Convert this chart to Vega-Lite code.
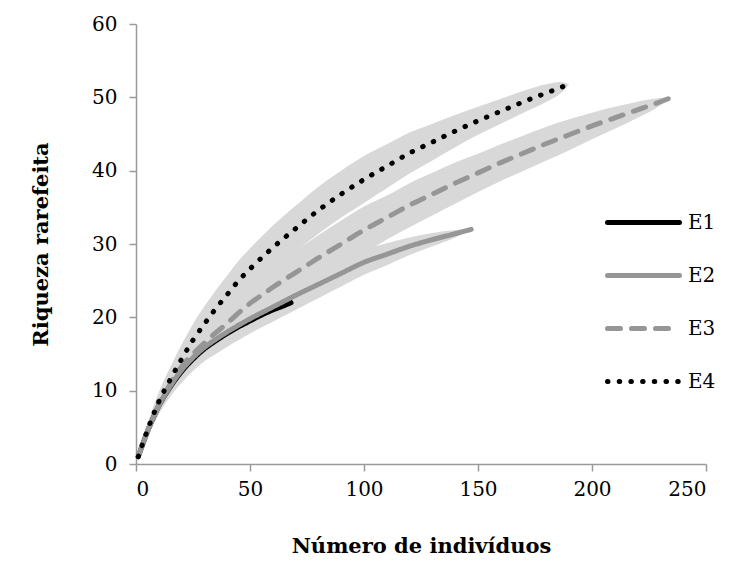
{
  "$schema": "https://vega.github.io/schema/vega-lite/v6.json",
  "width": 570,
  "height": 440,
  "autosize": {"type": "none"},
  "padding": {"left": 136, "top": 24, "right": 25, "bottom": 107},
  "background": "white",
  "config": {
    "view": {"stroke": null},
    "font": "DejaVu Serif",
    "axis": {
      "grid": false,
      "domainColor": "#9a9a9a",
      "domainWidth": 1.5,
      "tickColor": "#9a9a9a",
      "tickWidth": 1.5,
      "tickSize": 7,
      "labelFont": "DejaVu Serif",
      "labelFontSize": 20,
      "labelColor": "black",
      "titleFont": "DejaVu Serif",
      "titleFontSize": 21,
      "titleFontWeight": "bold",
      "titleColor": "black"
    }
  },
  "data": {
    "values": [
      {"s": "E1", "x": 1, "y": 1, "lo": 1, "hi": 1},
      {"s": "E1", "x": 5, "y": 4.4, "lo": 3.8, "hi": 5.0},
      {"s": "E1", "x": 10, "y": 7.9, "lo": 6.9, "hi": 8.9},
      {"s": "E1", "x": 15, "y": 10.5, "lo": 9.2, "hi": 11.8},
      {"s": "E1", "x": 20, "y": 12.6, "lo": 11.1, "hi": 14.1},
      {"s": "E1", "x": 25, "y": 14.3, "lo": 12.7, "hi": 15.9},
      {"s": "E1", "x": 30, "y": 15.7, "lo": 14.1, "hi": 17.3},
      {"s": "E1", "x": 35, "y": 16.8, "lo": 15.2, "hi": 18.4},
      {"s": "E1", "x": 40, "y": 17.8, "lo": 16.3, "hi": 19.3},
      {"s": "E1", "x": 45, "y": 18.7, "lo": 17.3, "hi": 20.1},
      {"s": "E1", "x": 50, "y": 19.5, "lo": 18.2, "hi": 20.8},
      {"s": "E1", "x": 55, "y": 20.3, "lo": 19.2, "hi": 21.4},
      {"s": "E1", "x": 60, "y": 21.0, "lo": 20.2, "hi": 21.8},
      {"s": "E1", "x": 65, "y": 21.6, "lo": 21.2, "hi": 22.0},
      {"s": "E1", "x": 68, "y": 22.0, "lo": 22.0, "hi": 22.0},

      {"s": "E2", "x": 1, "y": 1, "lo": 1, "hi": 1},
      {"s": "E2", "x": 5, "y": 4.4, "lo": 3.7, "hi": 5.1},
      {"s": "E2", "x": 10, "y": 7.9, "lo": 6.8, "hi": 9.0},
      {"s": "E2", "x": 15, "y": 10.6, "lo": 9.2, "hi": 12.0},
      {"s": "E2", "x": 20, "y": 12.8, "lo": 11.1, "hi": 14.5},
      {"s": "E2", "x": 25, "y": 14.5, "lo": 12.7, "hi": 16.3},
      {"s": "E2", "x": 30, "y": 15.9, "lo": 14.0, "hi": 17.8},
      {"s": "E2", "x": 35, "y": 17.0, "lo": 15.0, "hi": 19.0},
      {"s": "E2", "x": 40, "y": 18.0, "lo": 16.0, "hi": 20.0},
      {"s": "E2", "x": 50, "y": 19.8, "lo": 17.8, "hi": 21.8},
      {"s": "E2", "x": 60, "y": 21.4, "lo": 19.4, "hi": 23.4},
      {"s": "E2", "x": 70, "y": 23.0, "lo": 21.0, "hi": 25.0},
      {"s": "E2", "x": 80, "y": 24.5, "lo": 22.6, "hi": 26.4},
      {"s": "E2", "x": 90, "y": 26.0, "lo": 24.2, "hi": 27.8},
      {"s": "E2", "x": 100, "y": 27.5, "lo": 25.8, "hi": 29.2},
      {"s": "E2", "x": 110, "y": 28.6, "lo": 27.1, "hi": 30.1},
      {"s": "E2", "x": 120, "y": 29.7, "lo": 28.5, "hi": 30.9},
      {"s": "E2", "x": 130, "y": 30.6, "lo": 29.7, "hi": 31.5},
      {"s": "E2", "x": 140, "y": 31.4, "lo": 30.9, "hi": 31.9},
      {"s": "E2", "x": 147, "y": 32.0, "lo": 32.0, "hi": 32.0},

      {"s": "E3", "x": 1, "y": 1, "lo": 1, "hi": 1},
      {"s": "E3", "x": 5, "y": 4.5, "lo": 3.8, "hi": 5.2},
      {"s": "E3", "x": 10, "y": 8.1, "lo": 6.9, "hi": 9.3},
      {"s": "E3", "x": 15, "y": 10.9, "lo": 9.3, "hi": 12.5},
      {"s": "E3", "x": 20, "y": 13.3, "lo": 11.3, "hi": 15.3},
      {"s": "E3", "x": 25, "y": 15.0, "lo": 12.8, "hi": 17.2},
      {"s": "E3", "x": 30, "y": 16.5, "lo": 14.1, "hi": 18.9},
      {"s": "E3", "x": 35, "y": 17.9, "lo": 15.3, "hi": 20.5},
      {"s": "E3", "x": 40, "y": 19.2, "lo": 16.5, "hi": 21.9},
      {"s": "E3", "x": 45, "y": 20.6, "lo": 17.8, "hi": 23.4},
      {"s": "E3", "x": 50, "y": 21.9, "lo": 19.0, "hi": 24.8},
      {"s": "E3", "x": 55, "y": 23.0, "lo": 20.0, "hi": 26.0},
      {"s": "E3", "x": 60, "y": 24.1, "lo": 21.1, "hi": 27.1},
      {"s": "E3", "x": 70, "y": 26.1, "lo": 23.1, "hi": 29.1},
      {"s": "E3", "x": 80, "y": 28.1, "lo": 25.0, "hi": 31.2},
      {"s": "E3", "x": 90, "y": 30.0, "lo": 26.8, "hi": 33.2},
      {"s": "E3", "x": 100, "y": 31.9, "lo": 28.7, "hi": 35.1},
      {"s": "E3", "x": 110, "y": 33.6, "lo": 30.6, "hi": 36.6},
      {"s": "E3", "x": 120, "y": 35.3, "lo": 32.3, "hi": 38.3},
      {"s": "E3", "x": 130, "y": 36.8, "lo": 33.9, "hi": 39.7},
      {"s": "E3", "x": 140, "y": 38.3, "lo": 35.5, "hi": 41.1},
      {"s": "E3", "x": 150, "y": 39.7, "lo": 37.1, "hi": 42.3},
      {"s": "E3", "x": 160, "y": 41.1, "lo": 38.6, "hi": 43.6},
      {"s": "E3", "x": 170, "y": 42.4, "lo": 40.0, "hi": 44.8},
      {"s": "E3", "x": 180, "y": 43.7, "lo": 41.4, "hi": 46.0},
      {"s": "E3", "x": 190, "y": 44.9, "lo": 42.8, "hi": 47.0},
      {"s": "E3", "x": 200, "y": 46.1, "lo": 44.3, "hi": 47.9},
      {"s": "E3", "x": 210, "y": 47.2, "lo": 45.7, "hi": 48.7},
      {"s": "E3", "x": 220, "y": 48.3, "lo": 47.2, "hi": 49.4},
      {"s": "E3", "x": 230, "y": 49.4, "lo": 48.9, "hi": 49.9},
      {"s": "E3", "x": 235, "y": 50.0, "lo": 50.0, "hi": 50.0},

      {"s": "E4", "x": 1, "y": 1, "lo": 1, "hi": 1},
      {"s": "E4", "x": 5, "y": 4.6, "lo": 3.8, "hi": 5.4},
      {"s": "E4", "x": 10, "y": 8.5, "lo": 7.2, "hi": 9.8},
      {"s": "E4", "x": 15, "y": 11.5, "lo": 9.8, "hi": 13.2},
      {"s": "E4", "x": 20, "y": 14.3, "lo": 12.3, "hi": 16.3},
      {"s": "E4", "x": 25, "y": 16.9, "lo": 14.7, "hi": 19.1},
      {"s": "E4", "x": 30, "y": 19.1, "lo": 16.7, "hi": 21.5},
      {"s": "E4", "x": 35, "y": 21.2, "lo": 18.7, "hi": 23.7},
      {"s": "E4", "x": 40, "y": 23.1, "lo": 20.5, "hi": 25.7},
      {"s": "E4", "x": 45, "y": 25.0, "lo": 22.3, "hi": 27.7},
      {"s": "E4", "x": 50, "y": 26.6, "lo": 23.8, "hi": 29.4},
      {"s": "E4", "x": 60, "y": 29.5, "lo": 26.5, "hi": 32.5},
      {"s": "E4", "x": 70, "y": 32.1, "lo": 29.0, "hi": 35.2},
      {"s": "E4", "x": 80, "y": 34.6, "lo": 31.4, "hi": 37.8},
      {"s": "E4", "x": 90, "y": 36.8, "lo": 33.6, "hi": 40.0},
      {"s": "E4", "x": 100, "y": 38.8, "lo": 35.6, "hi": 42.0},
      {"s": "E4", "x": 110, "y": 40.6, "lo": 37.6, "hi": 43.6},
      {"s": "E4", "x": 120, "y": 42.4, "lo": 39.6, "hi": 45.2},
      {"s": "E4", "x": 130, "y": 43.9, "lo": 41.4, "hi": 46.4},
      {"s": "E4", "x": 140, "y": 45.4, "lo": 43.2, "hi": 47.6},
      {"s": "E4", "x": 150, "y": 46.8, "lo": 44.9, "hi": 48.7},
      {"s": "E4", "x": 160, "y": 48.1, "lo": 46.4, "hi": 49.8},
      {"s": "E4", "x": 170, "y": 49.4, "lo": 47.9, "hi": 50.9},
      {"s": "E4", "x": 180, "y": 50.6, "lo": 49.4, "hi": 51.8},
      {"s": "E4", "x": 186, "y": 51.3, "lo": 50.5, "hi": 52.1},
      {"s": "E4", "x": 190, "y": 51.8, "lo": 51.8, "hi": 51.8}
    ]
  },
  "encoding": {
    "x": {
      "field": "x",
      "type": "quantitative",
      "scale": {"domain": [0, 250], "nice": false, "zero": true},
      "axis": {
        "title": "Número de indivíduos",
        "values": [0, 50, 100, 150, 200, 250],
        "labelPadding": 8,
        "titlePadding": 36
      }
    }
  },
  "layer": [
    {
      "mark": {"type": "area", "interpolate": "monotone", "color": "#d8d8d8", "opacity": 1},
      "encoding": {
        "y": {
          "field": "lo",
          "type": "quantitative",
          "scale": {"domain": [0, 60], "nice": false},
          "axis": {
            "title": "Riqueza rarefeita",
            "values": [0, 10, 20, 30, 40, 50, 60],
            "labelPadding": 12,
            "titlePadding": 40
          }
        },
        "y2": {"field": "hi"},
        "detail": {"field": "s", "type": "nominal"}
      }
    },
    {
      "mark": {"type": "line", "interpolate": "monotone", "strokeWidth": 5, "strokeCap": "round"},
      "encoding": {
        "y": {
          "field": "y",
          "type": "quantitative",
          "title": "Riqueza rarefeita"
        },
        "color": {
          "field": "s",
          "type": "nominal",
          "scale": {"domain": ["E1", "E2", "E3", "E4"], "range": ["#000000", "#969696", "#969696", "#000000"]},
          "legend": {
            "title": null,
            "orient": "none",
            "legendX": 469,
            "legendY": 160,
            "padding": 0,
            "symbolType": "stroke",
            "symbolSize": 5184,
            "symbolStrokeWidth": 5,
            "labelFont": "DejaVu Serif",
            "labelFontSize": 20,
            "labelColor": "black",
            "labelOffset": 6,
            "rowPadding": 4,
            "encode": {"symbols": {"update": {"strokeCap": {"value": "round"}}}}
          }
        },
        "strokeDash": {
          "field": "s",
          "type": "nominal",
          "scale": {"domain": ["E1", "E2", "E3", "E4"], "range": [[1, 0], [1, 0], [13, 11], [0.5, 11.2]]},
          "legend": {
            "title": null,
            "orient": "none",
            "legendX": 469,
            "legendY": 160,
            "padding": 0,
            "symbolType": "stroke",
            "symbolSize": 5184,
            "symbolStrokeWidth": 5,
            "labelFont": "DejaVu Serif",
            "labelFontSize": 20,
            "labelColor": "black",
            "labelOffset": 6,
            "rowPadding": 4,
            "encode": {"symbols": {"update": {"strokeCap": {"value": "round"}}}}
          }
        }
      }
    }
  ]
}
